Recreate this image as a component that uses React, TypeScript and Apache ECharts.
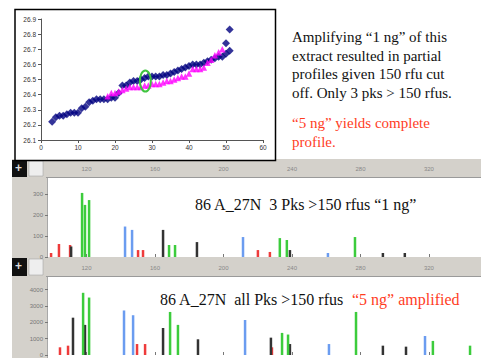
import React, { useEffect, useRef } from 'react';
import * as echarts from 'echarts';

// ---- scatter chart data ----
const blueX = [3, 4, 5, 6, 7, 8, 9, 10, 11, 12, 13, 14, 15, 16, 17, 18, 19, 20, 21, 22, 23, 24, 25, 26, 27, 28, 29, 30, 31, 32, 33, 34, 35, 36, 37, 38, 39, 40, 41, 42, 43, 44, 45, 46, 47, 48, 49, 50, 51];
const blueY = [26.22, 26.25, 26.26, 26.26, 26.27, 26.28, 26.28, 26.28, 26.31, 26.32, 26.35, 26.36, 26.37, 26.37, 26.37, 26.37, 26.38, 26.38, 26.41, 26.46, 26.46, 26.48, 26.49, 26.49, 26.5, 26.51, 26.52, 26.52, 26.52, 26.52, 26.53, 26.53, 26.54, 26.55, 26.56, 26.57, 26.58, 26.59, 26.6, 26.6, 26.6, 26.61, 26.62, 26.63, 26.64, 26.65, 26.65, 26.67, 26.69];
const blueOutX = [50, 51];
const blueOutY = [26.74, 26.83];
const magentaX = [18, 19, 20, 21, 22, 23, 24, 25, 26, 27, 28, 29, 30, 31, 32, 33, 34, 35, 36, 37, 38, 39, 40, 41, 42, 43, 44, 45, 46, 47, 48, 49];
const magentaY = [26.39, 26.41, 26.41, 26.42, 26.43, 26.44, 26.45, 26.45, 26.45, 26.45, 26.46, 26.46, 26.47, 26.47, 26.47, 26.48, 26.49, 26.49, 26.5, 26.51, 26.52, 26.52, 26.54, 26.57, 26.57, 26.57, 26.58, 26.61, 26.63, 26.66, 26.68, 26.7];
const circledPoint = [28.2, 26.49];
const xTicks = [0, 10, 20, 30, 40, 50, 60];

// ---- electropherogram peaks [bp, rfu] ----
const p1Red = [[99.3, 19], [103.9, 62], [110.4, 57], [150.1, 33], [153.0, 33], [220.1, 33], [227.1, 24]];
const p1Black = [[111.0, 50], [164.7, 129], [184.5, 71], [238.8, 33], [293.1, 19], [305.9, 19]];
const p1Green = [[117.4, 305], [119.1, 248], [121.5, 271], [168.2, 57], [171.7, 57], [232.9, 90], [237.0, 81], [276.8, 95]];
const p1Blue = [[142.5, 145], [146.6, 129], [211.4, 95], [261.0, 19]];

const p2Red = [[104.5, 470], [109.2, 570], [149.5, 670], [154.2, 670], [228.3, 470]];
const p2Black = [[112.1, 2280], [119.1, 1840], [164.7, 1650], [185.1, 960], [227.7, 1060], [238.8, 670], [293.1, 570], [306.6, 510]];
const p2Green = [[118.0, 3800], [121.5, 3510], [168.8, 2630], [173.4, 1840], [234.2, 1350], [237.7, 1250], [277.4, 2630], [322.3, 860], [344.0, 570]];
const p2Blue = [[141.9, 2720], [147.2, 2430], [212.6, 2140], [261.6, 670], [317.7, 1160]];

const rulerTicks = [120, 160, 200, 240, 280, 320];
const p1YTicks = [0, 100, 200, 300];
const p2YTicks = [0, 1000, 2000, 3000, 4000];

const textMain = 'Amplifying “1 ng” of this\nextract resulted in partial\nprofiles given 150 rfu cut\noff. Only 3 pks > 150 rfus.';
const textRed = '“5 ng” yields complete\nprofile.';
const panel1Title = '86 A_27N\u00a0\u00a03 Pks >150 rfus “1 ng”';
const panel2TitleBlack = '86 A_27N\u00a0\u00a0all Pks >150 rfus';
const panel2TitleRed = '“5 ng” amplified';

const GRAY = '#d4d1cb';
const SERIF = '"Liberation Serif", "Times New Roman", serif';
const SANS = '"Liberation Sans", Arial, sans-serif';

function zip(xs: number[], ys: number[]) {
  return xs.map((x, i) => [x, ys[i]]);
}

function bars(data: number[][], color: string, idx: number) {
  return {
    type: 'bar',
    xAxisIndex: idx,
    yAxisIndex: idx,
    data,
    barWidth: 2.5,
    barGap: '-100%',
    itemStyle: { color },
    silent: true,
  };
}

export default function App() {
  const ref = useRef<HTMLDivElement>(null);
  useEffect(() => {
    if (!ref.current) return;
    const chart = echarts.init(ref.current, null, { renderer: 'svg' });

    const panelX = (gi: number) => ({
      gridIndex: gi,
      type: 'value',
      min: 97.5,
      max: 350.4,
      position: 'top',
      axisLine: { show: false },
      axisTick: { show: true, length: 3, customValues: rulerTicks, lineStyle: { color: '#777' } },
      axisLabel: { customValues: rulerTicks, fontSize: 6, color: '#888', margin: 6, fontFamily: SANS, formatter: (v: number) => String(v) },
      splitLine: { show: false },
    });
    const panelY = (gi: number, max: number, ticks: number[]) => ({
      gridIndex: gi,
      type: 'value',
      min: 0,
      max,
      axisLine: { show: false },
      axisTick: { show: true, length: 3, customValues: ticks, lineStyle: { color: '#777' } },
      axisLabel: { customValues: ticks, fontSize: 6, color: '#777', margin: 5, fontFamily: SANS, formatter: (v: number) => String(v) },
      splitLine: { show: false },
    });

    const graphics: any[] = [
      // gray ruler bars
      { type: 'rect', id: 'bar1', z: -5, shape: { x: 12, y: 159, width: 469, height: 19 }, style: { fill: GRAY } },
      { type: 'rect', id: 'bar2', z: -5, shape: { x: 12, y: 257, width: 469, height: 20 }, style: { fill: GRAY } },
      { type: 'rect', id: 'strip1', z: -5, shape: { x: 12, y: 178, width: 36, height: 79 }, style: { fill: GRAY } },
      { type: 'rect', id: 'strip2', z: -5, shape: { x: 12, y: 277, width: 36, height: 81 }, style: { fill: GRAY } },
      { type: 'line', id: 'bl1', z: -4, shape: { x1: 46, y1: 177.5, x2: 481, y2: 177.5 }, style: { stroke: '#9a9a9a', lineWidth: 1 } },
      { type: 'line', id: 'bl2', z: -4, shape: { x1: 46, y1: 276.5, x2: 481, y2: 276.5 }, style: { stroke: '#9a9a9a', lineWidth: 1 } },
      { type: 'line', id: 'vl1', z: -4, shape: { x1: 47.5, y1: 178, x2: 47.5, y2: 257 }, style: { stroke: '#a8a8a8', lineWidth: 1 } },
      { type: 'line', id: 'vl2', z: -4, shape: { x1: 47.5, y1: 277, x2: 47.5, y2: 358 }, style: { stroke: '#a8a8a8', lineWidth: 1 } },
      // icons
      { type: 'rect', id: 'ic1', z: -3, shape: { x: 12, y: 160, width: 15, height: 17 }, style: { fill: '#111' } },
      { type: 'rect', id: 'ic2', z: -3, shape: { x: 12, y: 258, width: 15, height: 18 }, style: { fill: '#111' } },
      { type: 'text', id: 'ic1t', z: -2, x: 15, y: 162, style: { text: '+', fill: '#ddd', font: 'bold 12px ' + SANS } },
      { type: 'text', id: 'ic2t', z: -2, x: 15, y: 260, style: { text: '+', fill: '#ddd', font: 'bold 12px ' + SANS } },
      { type: 'rect', id: 'ic3', z: -3, shape: { x: 29, y: 161, width: 14, height: 15 }, style: { fill: '#eeeeee', stroke: '#999', lineWidth: 0.5 } },
      { type: 'rect', id: 'ic4', z: -3, shape: { x: 29, y: 259, width: 14, height: 16 }, style: { fill: '#eeeeee', stroke: '#999', lineWidth: 0.5 } },
      // scatter box
      { type: 'rect', id: 'box', z: -1, shape: { x: 15, y: 9.5, width: 260.5, height: 151 }, style: { fill: '#fff', stroke: '#000', lineWidth: 1.5 } },
      // texts
      { type: 'text', id: 't1', z: 10, x: 292, y: 28, style: { text: textMain, fill: '#111', font: '15px ' + SERIF, lineHeight: 18.5 } },
      { type: 'text', id: 't2', z: 10, x: 292, y: 114, style: { text: textRed, fill: '#ff3d1f', font: '15px ' + SERIF, lineHeight: 18.5 } },
      { type: 'text', id: 't3', z: 10, x: 195, y: 196, style: { text: panel1Title, fill: '#111', font: '16px ' + SERIF } },
      { type: 'text', id: 't4', z: 10, x: 160, y: 291, style: { text: panel2TitleBlack, fill: '#111', font: '16px ' + SERIF } },
      { type: 'text', id: 't5', z: 10, x: 352, y: 291, style: { text: panel2TitleRed, fill: '#ff3d1f', font: '16px ' + SERIF } },
    ];

    chart.setOption({
      animation: false,
      backgroundColor: '#fff',
      graphic: { elements: graphics },
      grid: [
        { left: 41, top: 19, width: 222, height: 121 },
        { left: 48, top: 178, width: 433, height: 79 },
        { left: 48, top: 277, width: 433, height: 81 },
      ],
      xAxis: [
        {
          gridIndex: 0,
          type: 'value',
          min: 0,
          max: 60,
          interval: 10,
          axisLine: { lineStyle: { color: '#555', width: 1 } },
          axisTick: { show: true, length: 3, customValues: xTicks, lineStyle: { color: '#555' } },
          axisLabel: { fontSize: 6.5, color: '#333', margin: 4, fontFamily: SANS },
          splitLine: { show: false },
        },
        panelX(1),
        panelX(2),
      ],
      yAxis: [
        {
          gridIndex: 0,
          type: 'value',
          min: 26.1,
          max: 26.9,
          interval: 0.1,
          axisLine: { show: true, lineStyle: { color: '#555', width: 1 } },
          axisTick: { show: true, length: 3, lineStyle: { color: '#555' } },
          axisLabel: { fontSize: 6.5, color: '#333', margin: 5, fontFamily: SANS, formatter: (v: number) => v.toFixed(1) },
          splitLine: { show: false },
        },
        panelY(1, 376, p1YTicks),
        panelY(2, 4765, p2YTicks),
      ],
      series: [
        {
          type: 'scatter',
          xAxisIndex: 0,
          yAxisIndex: 0,
          data: zip(blueX, blueY),
          symbol: 'diamond',
          symbolSize: 8,
          itemStyle: { color: '#000080' },
        },
        {
          type: 'scatter',
          xAxisIndex: 0,
          yAxisIndex: 0,
          data: zip(blueOutX, blueOutY),
          symbol: 'diamond',
          symbolSize: 8,
          itemStyle: { color: '#000080' },
        },
        {
          type: 'scatter',
          xAxisIndex: 0,
          yAxisIndex: 0,
          data: zip(magentaX, magentaY),
          symbol: 'triangle',
          symbolSize: 6.5,
          itemStyle: { color: '#ff00ff' },
        },
        {
          type: 'custom',
          xAxisIndex: 0,
          yAxisIndex: 0,
          data: [circledPoint],
          silent: true,
          z: 5,
          renderItem: (_p: any, api: any) => {
            const c = api.coord([api.value(0), api.value(1)]);
            return {
              type: 'ellipse',
              shape: { cx: c[0], cy: c[1], rx: 5.5, ry: 10.5 },
              style: { fill: 'none', stroke: '#3fc43f', lineWidth: 2 },
            };
          },
        },
        bars(p1Red, '#ee3b3b', 1),
        bars(p1Black, '#333333', 1),
        bars(p1Green, '#3ccc3c', 1),
        bars(p1Blue, '#6b9cf0', 1),
        bars(p2Red, '#ee3b3b', 2),
        bars(p2Black, '#333333', 2),
        bars(p2Green, '#3ccc3c', 2),
        bars(p2Blue, '#6b9cf0', 2),
      ],
    });

    return () => chart.dispose();
  }, []);

  return <div ref={ref} style={{ position: 'fixed', left: 0, top: 0, width: 481, height: 358 }} />;
}
